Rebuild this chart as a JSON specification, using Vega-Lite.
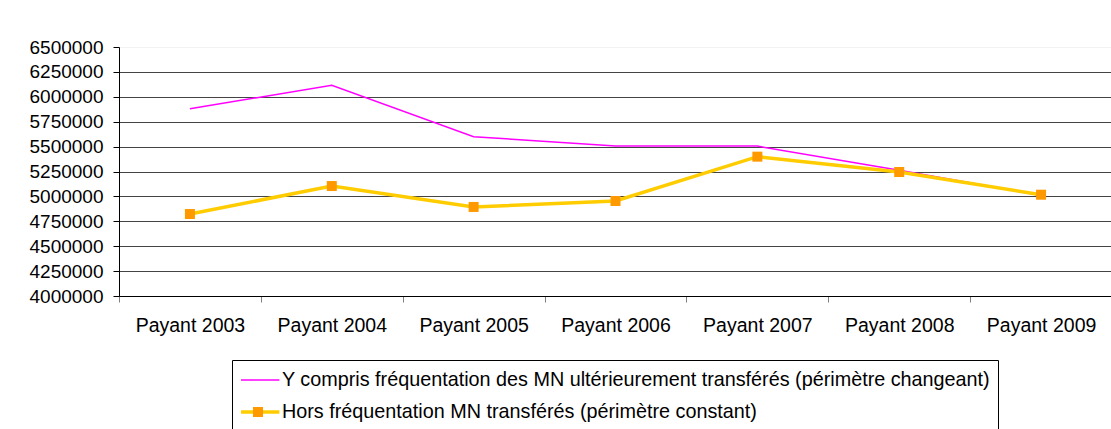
{
  "$schema": "https://vega.github.io/schema/vega-lite/v6.json",
  "width": 993,
  "height": 249,
  "autosize": {"type": "none"},
  "padding": {"left": 119, "top": 47, "right": 0, "bottom": 133},
  "background": "white",
  "config": {"view": {"stroke": null}, "font": "Liberation Sans"},
  "data": {
    "values": [
      {"year": "Payant 2003", "series": "Y compris fréquentation des MN ultérieurement transférés (périmètre changeant)", "value": 5880000},
      {"year": "Payant 2004", "series": "Y compris fréquentation des MN ultérieurement transférés (périmètre changeant)", "value": 6115000},
      {"year": "Payant 2005", "series": "Y compris fréquentation des MN ultérieurement transférés (périmètre changeant)", "value": 5600000},
      {"year": "Payant 2006", "series": "Y compris fréquentation des MN ultérieurement transférés (périmètre changeant)", "value": 5506000},
      {"year": "Payant 2007", "series": "Y compris fréquentation des MN ultérieurement transférés (périmètre changeant)", "value": 5505000},
      {"year": "Payant 2008", "series": "Y compris fréquentation des MN ultérieurement transférés (périmètre changeant)", "value": 5262000},
      {"year": "Payant 2009", "series": "Y compris fréquentation des MN ultérieurement transférés (périmètre changeant)", "value": 5010000},
      {"year": "Payant 2003", "series": "Hors fréquentation MN transférés (périmètre constant)", "value": 4823000},
      {"year": "Payant 2004", "series": "Hors fréquentation MN transférés (périmètre constant)", "value": 5104000},
      {"year": "Payant 2005", "series": "Hors fréquentation MN transférés (périmètre constant)", "value": 4894000},
      {"year": "Payant 2006", "series": "Hors fréquentation MN transférés (périmètre constant)", "value": 4954000},
      {"year": "Payant 2007", "series": "Hors fréquentation MN transférés (périmètre constant)", "value": 5399000},
      {"year": "Payant 2008", "series": "Hors fréquentation MN transférés (périmètre constant)", "value": 5245000},
      {"year": "Payant 2009", "series": "Hors fréquentation MN transférés (périmètre constant)", "value": 5017000}
    ]
  },
  "encoding": {
    "x": {
      "field": "year", "type": "ordinal", "sort": null, "bandPosition": 0.5,
      "scale": {"type": "band", "paddingInner": 0, "paddingOuter": 0},
      "axis": {
        "title": null, "labelAngle": 0, "labelFontSize": 19.5, "labelColor": "black",
        "labelPadding": 14, "tickBand": "extent", "tickSize": 6, "tickColor": "#808080",
        "domainColor": "black", "grid": false
      }
    },
    "y": {
      "field": "value", "type": "quantitative",
      "scale": {"domain": [4000000, 6500000], "nice": false, "zero": false},
      "axis": {
        "title": null, "format": "d",
        "values": [4000000, 4250000, 4500000, 4750000, 5000000, 5250000, 5500000, 5750000, 6000000, 6250000, 6500000],
        "labelFontSize": 19, "labelColor": "black", "labelPadding": 10,
        "tickSize": 6, "tickColor": "black", "domainColor": "black",
        "grid": true,
        "gridColor": {"condition": {"test": "datum.value === 6500000", "value": "#f2f2f2"}, "value": "#444444"}
      }
    }
  },
  "layer": [
    {
      "mark": {"type": "line"},
      "encoding": {
        "stroke": {
          "field": "series", "type": "nominal",
          "scale": {
            "domain": ["Y compris fréquentation des MN ultérieurement transférés (périmètre changeant)", "Hors fréquentation MN transférés (périmètre constant)"],
            "range": ["#FF00FF", "#FFCC00"]
          },
          "legend": {
            "title": null, "orient": "none", "legendX": 113, "legendY": 313,
            "strokeColor": "black", "padding": 7, "rowPadding": 8,
            "symbolType": "M-1,0H2.2", "symbolSize": 576, "labelFontSize": 19.8,
            "labelColor": "black", "labelLimit": 2000, "labelOffset": 15
          }
        },
        "strokeWidth": {
          "field": "series", "type": "nominal",
          "scale": {
            "domain": ["Y compris fréquentation des MN ultérieurement transférés (périmètre changeant)", "Hors fréquentation MN transférés (périmètre constant)"],
            "range": [1.5, 3.5]
          },
          "legend": {
            "title": null, "orient": "none", "legendX": 113, "legendY": 313,
            "strokeColor": "black", "padding": 7, "rowPadding": 8,
            "symbolType": "M-1,0H2.2", "symbolSize": 576, "labelFontSize": 19.8,
            "labelColor": "black", "labelLimit": 2000, "labelOffset": 15
          }
        }
      }
    },
    {
      "transform": [{"filter": "datum.series === 'Hors fréquentation MN transférés (périmètre constant)'"}],
      "mark": {"type": "square", "size": 100, "opacity": 1, "filled": true},
      "encoding": {
        "fill": {
          "field": "series", "type": "nominal",
          "scale": {"domain": ["Hors fréquentation MN transférés (périmètre constant)"], "range": ["#FF9900"]},
          "legend": {
            "title": null, "orient": "none", "legendX": 134, "legendY": 360,
            "padding": 0, "symbolType": "square", "symbolSize": 100,
            "labelExpr": "''", "labelFontSize": 1, "symbolStrokeWidth": 0, "zindex": 5
          }
        }
      }
    }
  ]
}
